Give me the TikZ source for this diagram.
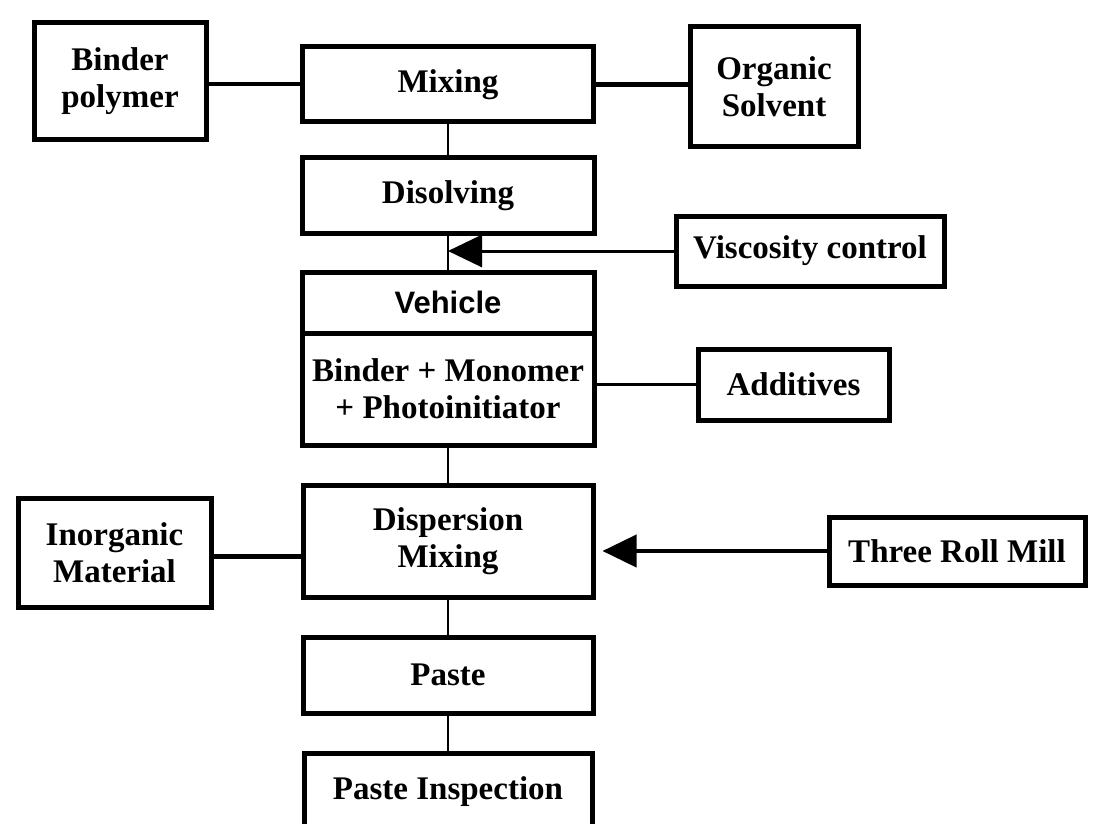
\documentclass[tikz,border=0pt]{standalone}
\usepackage{fontspec}
\setmainfont{Liberation Serif}
\setsansfont{Liberation Sans}
\usetikzlibrary{arrows.meta}
\begin{document}
\begin{tikzpicture}[x=1pt,y=-1pt,
    box/.style={draw,line width=5pt,align=center,inner sep=0pt,
      font=\bfseries\fontsize{33}{37}\selectfont},
    headbox/.style={box,font=\sffamily\bfseries\fontsize{31}{36}\selectfont},
    link/.style={line width=2pt},
    feed/.style={line width=3pt,-{Triangle[length=34pt,width=32pt]}}]
  \useasboundingbox (0,0) rectangle (1093,824);

  % Top row
  \node[box,minimum width=172pt,minimum height=117pt] (binder) at (120,81.5) {Binder\\polymer};
  \node[box,minimum width=291pt,minimum height=75pt] (mixing) at (448,84.5) {Mixing};
  \node[box,minimum width=168pt,minimum height=120pt] (organic) at (774,87) {Organic\\Solvent};

  % Vehicle preparation
  \node[box,minimum width=292pt,minimum height=75pt] (disolving) at (448,195.5) {Disolving};
  \node[box,minimum width=268pt,minimum height=70pt] (viscosity) at (810,251) {Viscosity control};
  \node[headbox,minimum width=292pt,minimum height=61pt] (vehicle) at (448,302.5) {Vehicle};
  \node[box,minimum width=292pt,minimum height=112pt] (vehmix) at (448,389) {Binder + Monomer\\+ Photoinitiator};
  \node[box,minimum width=191pt,minimum height=71pt] (additives) at (793.5,384.5) {Additives};

  % Paste preparation
  \node[box,minimum width=193pt,minimum height=109pt] (inorganic) at (114.5,552.5) {Inorganic\\Material};
  \node[box,minimum width=290pt,minimum height=112pt] (dispersion) at (448,541) {Dispersion\\Mixing};
  \node[box,minimum width=256pt,minimum height=68pt] (threeroll) at (957,551) {Three Roll Mill};
  \node[box,minimum width=290pt,minimum height=76pt] (paste) at (448,675) {Paste};
  \node[box,minimum width=288pt,minimum height=78pt] (inspection) at (448,792) {Paste Inspection};

  % Connectors
  \draw[line width=4pt] (mixing.west) -- (mixing.west -| binder.east);
  \draw[line width=5pt] (mixing.east) -- (mixing.east -| organic.west);
  \draw[link] (mixing.south) -- (disolving.north);
  \draw[link] (disolving.south) -- (vehicle.north);
  \draw[feed] (viscosity.west) -- (viscosity.west -| disolving.south);
  \draw[line width=3pt] (additives.west) -- (additives.west -| vehmix.east);
  \draw[link] (vehmix.south) -- (dispersion.north);
  \draw[line width=5pt] ([yshift=-4pt]inorganic.east) -- ([yshift=-4pt]inorganic.east -| dispersion.west);
  \draw[feed,line width=4pt,shorten >=7pt] (threeroll.west) -- (threeroll.west -| dispersion.east);
  \draw[link] (dispersion.south) -- (paste.north);
  \draw[link] (paste.south) -- (inspection.north);
\end{tikzpicture}
\end{document}
